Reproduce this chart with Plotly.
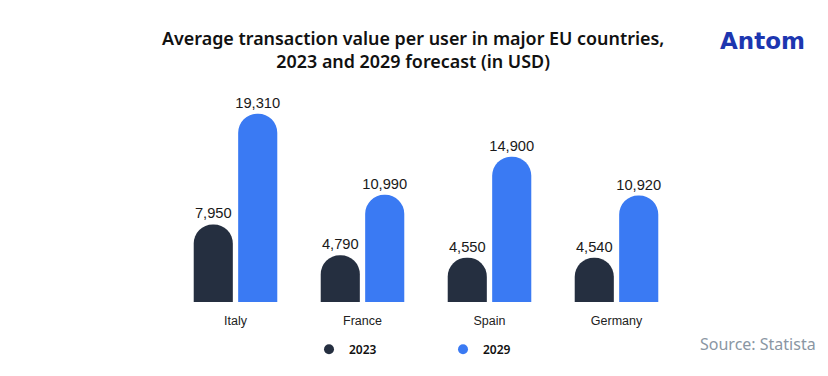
import plotly.graph_objects as go

countries = ["Italy", "France", "Spain", "Germany"]
values_2023 = [7950, 4790, 4550, 4540]
values_2029 = [19310, 10990, 14900, 10920]
series_names = ["2023", "2029"]
colors = ["#252f40", "#3a7af3"]

# page body has an 8px margin, so the figure is drawn 8px smaller and all
# pixel positions below are relative to the page
OFF = 8
W, H = 828 - OFF, 376 - OFF
ml, mt = 172 - OFF, 107 - OFF
pw, ph = 508, 202
mr, mb = W - ml - pw, H - mt - ph


def px_x(x):
    return (x - OFF - ml) / pw


def px_y(y):
    return (mt + ph - (y - OFF)) / ph


fig = go.Figure()
for name, vals, col in zip(series_names, [values_2023, values_2029], colors):
    fig.add_trace(go.Bar(
        x=countries, y=vals, name=name, marker=dict(color=col, line=dict(width=0)),
        texttemplate="%{y:,}", textposition="outside", cliponaxis=False,
        constraintext="none",
        textfont=dict(family="Liberation Sans, Arial", size=14.7, color="#1a1a1a"),
        showlegend=False, hoverinfo="skip",
    ))
    fig.add_trace(go.Scatter(
        x=[None], y=[None], mode="markers", name=name,
        marker=dict(color=col, size=10, symbol="circle"), showlegend=True,
    ))

fig.update_layout(
    width=W, height=H,
    margin=dict(l=ml, r=mr, t=mt, b=mb),
    paper_bgcolor="white", plot_bgcolor="white",
    barmode="group", bargap=0.3, bargroupgap=0.12, barcornerradius="50%",
    xaxis=dict(showgrid=False, showline=False, zeroline=False, ticks="",
               tickfont=dict(family="Liberation Sans, Arial", size=12.5, color="#222"),
               ticklabelstandoff=9),
    yaxis=dict(range=[0, 20000], visible=False),
    legend=dict(orientation="h", x=px_x(309), xanchor="left", y=px_y(358), yanchor="middle",
                entrywidth=89, entrywidthmode="pixels",
                font=dict(family="Noto Sans", size=12, color="#111", weight=600),
                bgcolor="rgba(0,0,0,0)"),
    font=dict(family="Noto Sans"),
)

fig.add_annotation(xref="paper", yref="paper", x=px_x(413), y=px_y(47),
                   xanchor="center", yanchor="middle", showarrow=False,
                   text="Average transaction value per user in major EU countries,<br>2023 and 2029 forecast (in USD)",
                   font=dict(family="Noto Sans", size=17.9, color="#111", weight=600), align="center")
fig.add_annotation(xref="paper", yref="paper", x=px_x(762), y=px_y(39),
                   xanchor="center", yanchor="middle", showarrow=False,
                   text="Antom", font=dict(family="DejaVu Sans", size=23, color="#1d36b0", weight=700))
fig.add_annotation(xref="paper", yref="paper", x=px_x(818), y=px_y(352),
                   xanchor="right", yanchor="middle", showarrow=False,
                   text="Source: Statista", font=dict(family="Noto Sans", size=16, color="#8a96a3"))

fig.write_html("out.html")
